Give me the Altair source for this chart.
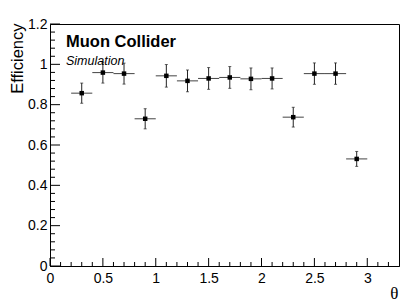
import altair as alt
import pandas as pd

# ---- data ----
theta = [0.3, 0.5, 0.7, 0.9, 1.1, 1.3, 1.5, 1.7, 1.9, 2.1, 2.3, 2.5, 2.7, 2.9]
efficiency = [0.857, 0.959, 0.954, 0.730, 0.943, 0.918, 0.930, 0.935, 0.928, 0.930, 0.738, 0.954, 0.954, 0.531]
eff_err = [0.050, 0.052, 0.052, 0.050, 0.056, 0.054, 0.054, 0.054, 0.054, 0.052, 0.049, 0.053, 0.053, 0.037]
theta_halfwidth = [0.1, 0.1, 0.1, 0.1, 0.1, 0.1, 0.1, 0.1, 0.1, 0.1, 0.1, 0.1, 0.1, 0.1]

y_major = [0.0, 0.2, 0.4, 0.6, 0.8, 1.0, 1.2]
y_minor = [0.04, 0.08, 0.12, 0.16, 0.24, 0.28, 0.32, 0.36, 0.44, 0.48, 0.52, 0.56,
           0.64, 0.68, 0.72, 0.76, 0.84, 0.88, 0.92, 0.96, 1.04, 1.08, 1.12, 1.16]
x_major = [0.0, 0.5, 1.0, 1.5, 2.0, 2.5, 3.0]
x_minor = [0.1, 0.2, 0.3, 0.4, 0.6, 0.7, 0.8, 0.9, 1.1, 1.2, 1.3, 1.4, 1.6, 1.7, 1.8, 1.9,
           2.1, 2.2, 2.3, 2.4, 2.6, 2.7, 2.8, 2.9, 3.1, 3.2]

x_domain = [0, 3.3]
y_domain = [0, 1.2]

W, H = 349, 242
FONT = "Liberation Sans"

df = pd.DataFrame({"theta": theta, "eff": efficiency, "err": eff_err, "hw": theta_halfwidth})
df["lo"] = df["eff"] - df["err"]
df["hi"] = df["eff"] + df["err"]
df["xlo"] = df["theta"] - df["hw"]
df["xhi"] = df["theta"] + df["hw"]

xs = alt.Scale(domain=x_domain, nice=False, zero=False)
ys = alt.Scale(domain=y_domain, nice=False, zero=False)

x_axis = alt.Axis(
    values=x_major, format="~g", title="θ", titleFont="Liberation Serif",
    titleFontSize=17, titleFontWeight="normal", titleAnchor="end", titleAlign="right",
    titleBaseline="alphabetic", titleX=W - 1, titleY=32, labelPadding=5,
    labelOverlap=False, labelFlush=False)
y_axis = alt.Axis(
    values=y_major, format="~g", title="Efficiency", titleFont=FONT,
    titleFontSize=16.5, titleFontWeight="normal", titleAngle=270,
    titleAlign="right", titleBaseline="alphabetic", titleX=-28, titleY=-1,
    labelPadding=3, labelOverlap=False, labelFlush=False)

base = alt.Chart(df)

points = base.mark_square(size=20, color="black", opacity=1).encode(
    x=alt.X("theta:Q", scale=xs, axis=x_axis),
    y=alt.Y("eff:Q", scale=ys, axis=y_axis),
)

vbars = base.mark_rule(color="#222", strokeWidth=1).encode(
    x=alt.X("theta:Q", scale=xs, axis=x_axis), y=alt.Y("lo:Q", scale=ys, axis=y_axis), y2="hi:Q")
hbars = base.mark_rule(color="#444", strokeWidth=1).encode(
    x=alt.X("xlo:Q", scale=xs, axis=x_axis), x2="xhi:Q", y=alt.Y("eff:Q", scale=ys, axis=y_axis))
cap_lo = base.mark_tick(color="#222", size=3, thickness=1, orient="horizontal").encode(
    x=alt.X("theta:Q", scale=xs, axis=x_axis), y=alt.Y("lo:Q", scale=ys, axis=y_axis))
cap_hi = base.mark_tick(color="#222", size=3, thickness=1, orient="horizontal").encode(
    x=alt.X("theta:Q", scale=xs, axis=x_axis), y=alt.Y("hi:Q", scale=ys, axis=y_axis))

ymaj = alt.Chart(pd.DataFrame({"v": y_major})).mark_rule(color="black", strokeWidth=1).encode(
    y=alt.Y("v:Q", scale=ys, axis=y_axis), x=alt.value(0), x2=alt.value(10))
ymin = alt.Chart(pd.DataFrame({"v": y_minor})).mark_rule(color="black", strokeWidth=1).encode(
    y=alt.Y("v:Q", scale=ys, axis=y_axis), x=alt.value(0), x2=alt.value(5))
xmaj = alt.Chart(pd.DataFrame({"v": x_major})).mark_rule(color="black", strokeWidth=1).encode(
    x=alt.X("v:Q", scale=xs, axis=x_axis), y=alt.value(H), y2=alt.value(H - 8))
xmin = alt.Chart(pd.DataFrame({"v": x_minor})).mark_rule(color="black", strokeWidth=1).encode(
    x=alt.X("v:Q", scale=xs, axis=x_axis), y=alt.value(H), y2=alt.value(H - 4))

label1 = alt.Chart(pd.DataFrame({"t": ["Muon Collider"]})).mark_text(
    font=FONT, fontSize=16.5, fontWeight="bold", align="left", baseline="alphabetic",
    color="black").encode(x=alt.value(16), y=alt.value(23), text="t:N")
label2 = alt.Chart(pd.DataFrame({"t": ["Simulation"]})).mark_text(
    font=FONT, fontSize=12.5, fontStyle="italic", align="left", baseline="alphabetic",
    color="black").encode(x=alt.value(16), y=alt.value(41), text="t:N")

chart = alt.layer(
    xmin, xmaj, ymin, ymaj, hbars, vbars, cap_lo, cap_hi, points, label1, label2
).properties(
    width=W, height=H,
    autosize=alt.AutoSizeParams(type="none"),
    padding={"left": 42, "top": 16, "right": 8, "bottom": 36},
    background="white",
).configure_view(
    stroke="black", strokeWidth=1
).configure_axis(
    grid=False, ticks=False, domain=True, domainColor="black", domainWidth=1,
    labelFont=FONT, labelFontSize=14, labelColor="black", titleColor="black",
)

chart.save("out.html", embed_options={"renderer": "svg", "actions": False})
